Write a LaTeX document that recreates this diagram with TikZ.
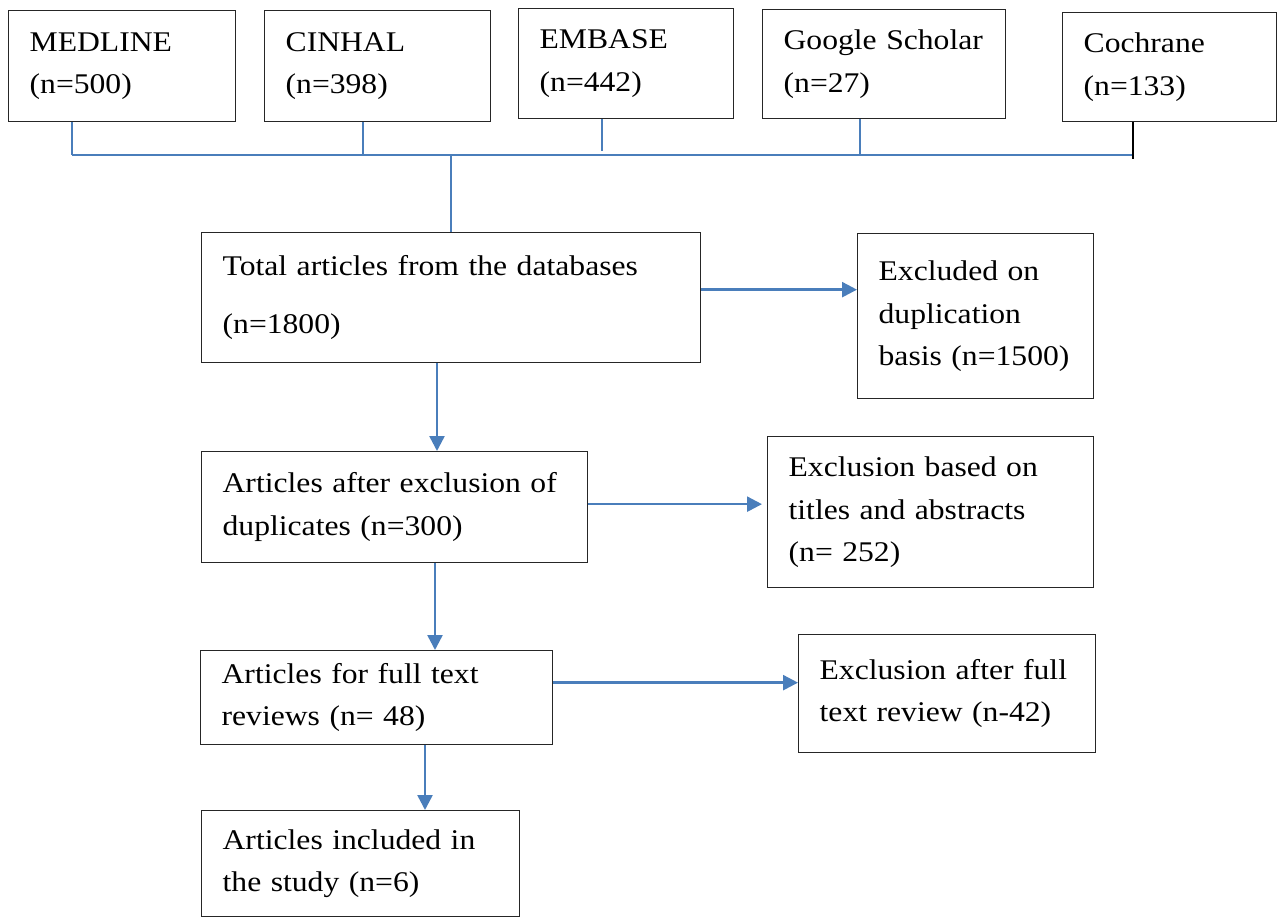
\documentclass[tikz,border=0pt]{standalone}
\usepackage{fontspec}
\setmainfont{Liberation Serif}[FakeStretch=1.11]
\usetikzlibrary{arrows.meta,positioning}
\definecolor{flowblue}{RGB}{74,126,187}

\begin{document}
\begin{tikzpicture}[x=1pt,y=-1pt,font=\fontsize{28.5}{42.5}\selectfont]
	\tikzstyle{box}=[draw=black!85,line width=1.3pt,rectangle,anchor=north west,align=left,inner xsep=21pt,inner ysep=0pt]
	\tikzstyle{bus}=[draw=flowblue,line width=1.6pt]
	\tikzstyle{flow}=[draw=flowblue,line width=2.5pt,-{Triangle[length=15pt,width=15pt]}]

	\useasboundingbox (0,0) rectangle (1277,917);

	% databases
	\node[box,minimum width=227pt,minimum height=111pt,text width=185pt] (medline) at (8,10) {MEDLINE\\(n=500)};
	\node[box,minimum width=226pt,minimum height=111pt,text width=184pt] (cinhal) at (264,10) {CINHAL\\(n=398)};
	\node[box,minimum width=215pt,minimum height=110pt,text width=173pt] (embase) at (518,8) {EMBASE\\(n=442)};
	\node[box,minimum width=243pt,minimum height=109pt,text width=201pt] (google) at (762,9) {Google~Scholar\\(n=27)};
	\node[box,minimum width=214pt,minimum height=109pt,text width=172pt] (cochrane) at (1062,12) {Cochrane\\(n=133)};

	% screening
	\node[box,minimum width=499pt,minimum height=130pt,text width=457pt] (total) at (201,232) {Total articles from the databases\\[15pt](n=1800)};
	\node[box,minimum width=236pt,minimum height=165pt,text width=194pt] (dupl) at (857,233) {Excluded on\\duplication\\basis~(n=1500)};
	\node[box,minimum width=386pt,minimum height=111pt,text width=344pt] (afterdup) at (201,451) {Articles after exclusion~of\\duplicates (n=300)};
	\node[box,minimum width=326pt,minimum height=151pt,text width=284pt] (titles) at (767,436) {Exclusion based on\\titles and abstracts\\(n= 252)};
	\node[box,minimum width=352pt,minimum height=94pt,text width=310pt] (fulltext) at (200,650) {Articles for full text\\reviews (n= 48)};
	\node[box,minimum width=297pt,minimum height=118pt,text width=255pt] (ftexcl) at (798,634) {Exclusion after~full\\text review (n-42)};
	\node[box,minimum width=318pt,minimum height=106pt,text width=276pt] (included) at (201,810) {Articles included in\\the study (n=6)};

	% joining line under the databases
	\coordinate (busL) at (72,155);
	\coordinate (busR) at (1133,155);
	\draw[bus] (busL) -- (busR);
	\foreach \n/\dx in {medline/64,cinhal/99,google/98}
		\draw[bus] ([xshift=\dx pt]\n.south west) coordinate (t) -- (t |- busL);
	\draw[bus] ([xshift=84pt]embase.south west) -- ++(0,32);
	\draw[line width=1.6pt] ([xshift=71pt]cochrane.south west) -- ++(0,37);
	\draw[bus] (total.north) -- (total.north |- busL);

	% arrows
	\draw[flow] ([xshift=236pt]total.south west) coordinate (a1) -- (a1 |- afterdup.north);
	\draw[flow] ([xshift=234pt]afterdup.south west) coordinate (a2) -- (a2 |- fulltext.north);
	\draw[flow] ([xshift=225pt]fulltext.south west) coordinate (a3) -- (a3 |- included.north);
	\draw[flow] ([yshift=8pt]total.east) coordinate (b1) -- (b1 -| dupl.west);
	\draw[flow] ([yshift=3pt]afterdup.east) coordinate (b2) -- ([xshift=-5pt]b2 -| titles.west);
	\draw[flow] ([yshift=15pt]fulltext.east) coordinate (b3) -- (b3 -| ftexcl.west);
\end{tikzpicture}
\end{document}
